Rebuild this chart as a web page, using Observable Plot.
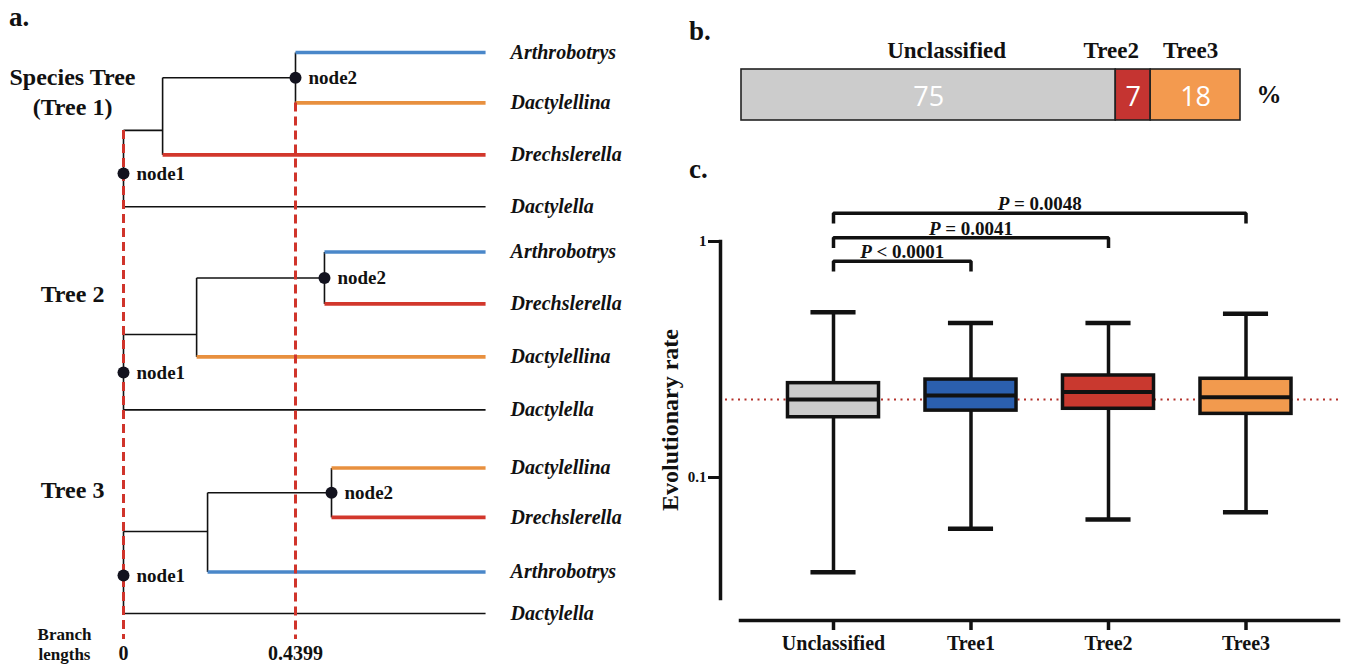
<!DOCTYPE html>
<html><head><meta charset="utf-8">
<script src="https://cdn.jsdelivr.net/npm/d3@7"></script>
<script src="https://cdn.jsdelivr.net/npm/@observablehq/plot@0.6"></script>
<style>
body{margin:0;background:#fff;}
#fig{position:relative;width:1346px;height:664px;overflow:hidden;background:#fff;font-family:"Liberation Serif";color:#111;}
.panel{position:absolute;}
.letter{position:absolute;font-family:"Liberation Serif";font-weight:bold;font-size:27px;line-height:1;}
</style></head><body>
<div id="fig">
  <div class="panel" id="pa" style="left:0;top:0"></div>
  <div class="panel" id="pb" style="left:680px;top:0"></div>
  <div class="panel" id="pc" style="left:640px;top:140px"></div>
  <div class="letter" style="left:9px;top:4px">a.</div>
  <div class="letter" style="left:689px;top:18px">b.</div>
  <div class="letter" style="left:689px;top:156px">c.</div>
</div>
<script>
// ---------------- data ----------------
const genera = ["Arthrobotrys", "Dactylellina", "Drechslerella", "Dactylella"];
const genusColors = ["#4a87c9", "#e8903f", "#d2372c", "#111111"];
const treeTitles = ["Species Tree\n(Tree 1)", "Tree 2", "Tree 3"];
const leafOrder = [
  ["Arthrobotrys", "Dactylellina", "Drechslerella", "Dactylella"],
  ["Arthrobotrys", "Drechslerella", "Dactylellina", "Dactylella"],
  ["Dactylellina", "Drechslerella", "Arthrobotrys", "Dactylella"]
];
const leafRows = [[0, 0.97, 1.97, 2.97], [3.84, 4.84, 5.86, 6.88], [8.0, 8.95, 10.0, 10.8]];
const node2Length = [0.4399, 0.514, 0.532];
const cladeLength = [0.100, 0.187, 0.215];
const rootJoinRow = [1.5, 5.43, 9.22];
const node1Row = [2.33, 6.16, 10.07];
const titleRows = [0.73, 4.62, 8.39];
const tipLength = 0.926;
const branchTicks = [0, 0.4399];

const shareCategories = ["Unclassified", "Tree2", "Tree3"];
const sharePercent = [75, 7, 18];
const shareColors = ["#cccccc", "#c53431", "#f39a4f"];

const boxCategories = ["Unclassified", "Tree1", "Tree2", "Tree3"];
const boxColors = ["#cccccc", "#2b5fae", "#c9392f", "#f29a4e"];
const boxMin = [0.0397, 0.0606, 0.0664, 0.0713];
const boxQ1 = [0.180, 0.192, 0.1955, 0.186];
const boxMedian = [0.214, 0.2226, 0.230, 0.219];
const boxQ3 = [0.251, 0.260, 0.2705, 0.262];
const boxMax = [0.502, 0.452, 0.452, 0.494];
const compTo = ["Tree3", "Tree2", "Tree1"];
const compP = ["P = 0.0048", "P = 0.0041", "P < 0.0001"];
const compLevel = [1.318, 1.037, 0.825];

// ---------------- helpers ----------------
const SERIF = "Liberation Serif";
const SANS = "Open Sans";
const txt = (data, o) => Plot.text(data, {fontFamily: SERIF, fontWeight: "bold", fill: "#111", ...o});

// ---------------- panel a: trees ----------------
const colorOf = g => genusColors[genera.indexOf(g)];
const colored = [], black = [], leaves = [], nodes = [];
leafOrder.forEach((L, t) => {
  const R = leafRows[t], n2 = node2Length[t], c = cladeLength[t];
  const n2row = (R[0] + R[1]) / 2;
  const leafSeg = (i, x1) => {
    const s = {x1, x2: tipLength, y1: R[i], y2: R[i], color: colorOf(L[i])};
    (L[i] === "Dactylella" ? black : colored).push(s);
    leaves.push({name: L[i], y: R[i]});
  };
  leafSeg(0, n2); leafSeg(1, n2); leafSeg(2, c); leafSeg(3, 0);
  black.push({x1: n2, x2: n2, y1: R[0], y2: R[1]});
  black.push({x1: c, x2: n2, y1: n2row, y2: n2row});
  black.push({x1: c, x2: c, y1: n2row, y2: R[2]});
  black.push({x1: 0, x2: c, y1: rootJoinRow[t], y2: rootJoinRow[t]});
  black.push({x1: 0, x2: 0, y1: rootJoinRow[t], y2: R[3]});
  nodes.push({label: "node2", x: n2, y: n2row});
  nodes.push({label: "node1", x: 0, y: node1Row[t]});
});
const dashes = [
  {x: branchTicks[0], y1: rootJoinRow[0], y2: 11.3},
  {x: branchTicks[1], y1: leafRows[0][1], y2: 11.3}
];
const pa = Plot.plot({
  width: 680, height: 664,
  marginTop: 0, marginBottom: 0, marginLeft: 0, marginRight: 0,
  x: {domain: [0, 0.4399], range: [123, 295], axis: null},
  y: {domain: [0, 10.8], range: [52, 613], axis: null},
  style: {fontFamily: SERIF, background: "transparent"},
  marks: [
    Plot.link(black, {x1: "x1", x2: "x2", y1: "y1", y2: "y2", stroke: "#111", strokeWidth: 1.6}),
    Plot.link(colored, {x1: "x1", x2: "x2", y1: "y1", y2: "y2", stroke: "color", strokeWidth: 3.6}),
    Plot.ruleX(dashes, {x: "x", y1: "y1", y2: "y2", stroke: "#d0342b", strokeWidth: 3, strokeDasharray: "9,5"}),
    Plot.dot(nodes, {x: "x", y: "y", r: 6, fill: "#12121e", stroke: "none"}),
    txt(nodes, {x: "x", y: "y", text: "label", textAnchor: "start", dx: 13, fontSize: 19}),
    txt(leaves, {x: () => tipLength, y: "y", text: "name", textAnchor: "start", dx: 25, fontSize: 20, fontStyle: "italic"}),
    txt(treeTitles, {frameAnchor: "left", y: (d, i) => titleRows[i], text: d => d, dx: 72, textAnchor: "middle", lineAnchor: "middle", fontSize: 24, lineHeight: 1.25}),
    txt(branchTicks, {x: d => d, frameAnchor: "bottom", dy: -11, lineAnchor: "middle", text: d => String(d), fontSize: 20}),
    txt(["Branch\nlengths"], {frameAnchor: "bottom-left", dx: 64, dy: -21, text: d => d, textAnchor: "middle", lineAnchor: "middle", fontSize: 17, lineHeight: 1.2})
  ]
});
document.getElementById("pa").append(pa);

// ---------------- panel b: shares ----------------
const ends = d3.cumsum(sharePercent);
const shares = shareCategories.map((c, i) => ({cat: c, v: sharePercent[i], x1: ends[i] - sharePercent[i], x2: ends[i], color: shareColors[i]}));
const labelShift = {Unclassified: 18, Tree2: -22, Tree3: -5};
const pb = Plot.plot({
  width: 666, height: 140,
  marginLeft: 61, marginRight: 106, marginTop: 69, marginBottom: 20,
  x: {domain: [0, 100], axis: null},
  style: {fontFamily: SERIF, background: "transparent"},
  marks: [
    Plot.barX(shares, {x1: "x1", x2: "x2", fill: "color", stroke: "#222", strokeWidth: 1.6}),
    Plot.text(shares, {x: d => (d.x1 + d.x2) / 2, text: d => String(d.v), fill: "white", fontSize: 27, fontFamily: SANS, dy: 2}),
    ...shares.map(s => txt([s], {x: d => (d.x1 + d.x2) / 2, frameAnchor: "top", lineAnchor: "middle", dy: -19, dx: labelShift[s.cat], text: "cat", fontSize: 23})),
    txt(["%"], {frameAnchor: "right", dx: 16, textAnchor: "start", text: d => d, fontSize: 25})
  ]
});
document.getElementById("pb").append(pb);

// ---------------- panel c: box plot ----------------
const boxes = boxCategories.map((c, i) => ({i, cat: c, min: boxMin[i], q1: boxQ1[i], med: boxMedian[i], q3: boxQ3[i], max: boxMax[i], color: boxColors[i]}));
const BW = 0.331, CW = 0.164, DROP = 0.905;
const bracketPts = [];
compTo.forEach((to, k) => {
  const a = 0, b = boxCategories.indexOf(to), L = compLevel[k];
  [[a, L * DROP], [a, L], [b, L], [b, L * DROP]].forEach(([x, y]) => bracketPts.push({k, x, y}));
});
const comps = compTo.map((to, k) => ({x: boxCategories.indexOf(to) / 2, y: compLevel[k], p: compP[k]}));
const pc = Plot.plot({
  width: 706, height: 524,
  marginLeft: 80, marginRight: 8, marginTop: 101, marginBottom: 66,
  x: {domain: [0, 3], range: [193, 605.5]},
  y: {type: "log", domain: [0.0307, 1]},
  style: {fontFamily: SERIF, background: "transparent"},
  marks: [
    Plot.ruleY([boxMedian[0]], {stroke: "#b3302a", strokeWidth: 2.2, strokeDasharray: "2,4.5", insetLeft: 5}),
    Plot.ruleX(boxes, {x: "i", y1: "min", y2: "max", stroke: "#111", strokeWidth: 3.5}),
    Plot.ruleY(boxes, {x1: d => d.i - CW, x2: d => d.i + CW, y: "min", stroke: "#111", strokeWidth: 4.5}),
    Plot.ruleY(boxes, {x1: d => d.i - CW, x2: d => d.i + CW, y: "max", stroke: "#111", strokeWidth: 4.5}),
    Plot.rectY(boxes, {x1: d => d.i - BW, x2: d => d.i + BW, y1: "q1", y2: "q3", fill: "color", stroke: "#111", strokeWidth: 3.5}),
    Plot.ruleY(boxes, {x1: d => d.i - BW, x2: d => d.i + BW, y: "med", stroke: "#111", strokeWidth: 4}),
    Plot.frame({anchor: "left", stroke: "#111", strokeWidth: 3.5}),
    Plot.axisY({ticks: [1, 0.1], tickFormat: d => String(d), tickSize: 12, tickPadding: 2, fontSize: 15, fontWeight: "bold", fontFamily: SERIF, strokeWidth: 3, label: null, fill: "#111"}),
    Plot.frame({anchor: "bottom", dy: 22, insetLeft: 20, stroke: "#111", strokeWidth: 3.5}),
    Plot.axisX({ticks: [0, 1, 2, 3], tickFormat: i => boxCategories[i], tickSize: 10, tickPadding: 5, dy: 22, fontSize: 20, fontWeight: "bold", fontFamily: SERIF, strokeWidth: 3.5, label: null, fill: "#111"}),
    txt(["Evolutionary rate"], {frameAnchor: "left", rotate: -90, dx: -50, textAnchor: "middle", lineAnchor: "middle", text: d => d, fontSize: 24}),
    Plot.line(bracketPts, {x: "x", y: "y", z: "k", stroke: "#111", strokeWidth: 3.5, strokeLinejoin: "miter", strokeLinecap: "butt"}),
    txt(comps, {x: "x", y: "y", text: "p", lineAnchor: "bottom", dy: -3, fontSize: 19})
  ]
});
document.getElementById("pc").append(pc);

// italic "P" in the p-value labels
const NS = "http://www.w3.org/2000/svg";
pc.querySelectorAll("text").forEach(el => {
  const s = el.textContent;
  if (/^P [=<]/.test(s) && el.children.length === 0) {
    el.textContent = "";
    const t1 = document.createElementNS(NS, "tspan");
    t1.setAttribute("font-style", "italic");
    t1.textContent = "P";
    const t2 = document.createElementNS(NS, "tspan");
    t2.textContent = "\u00a0" + s.slice(2);
    el.append(t1, t2);
  }
});
</script>
</body></html>
